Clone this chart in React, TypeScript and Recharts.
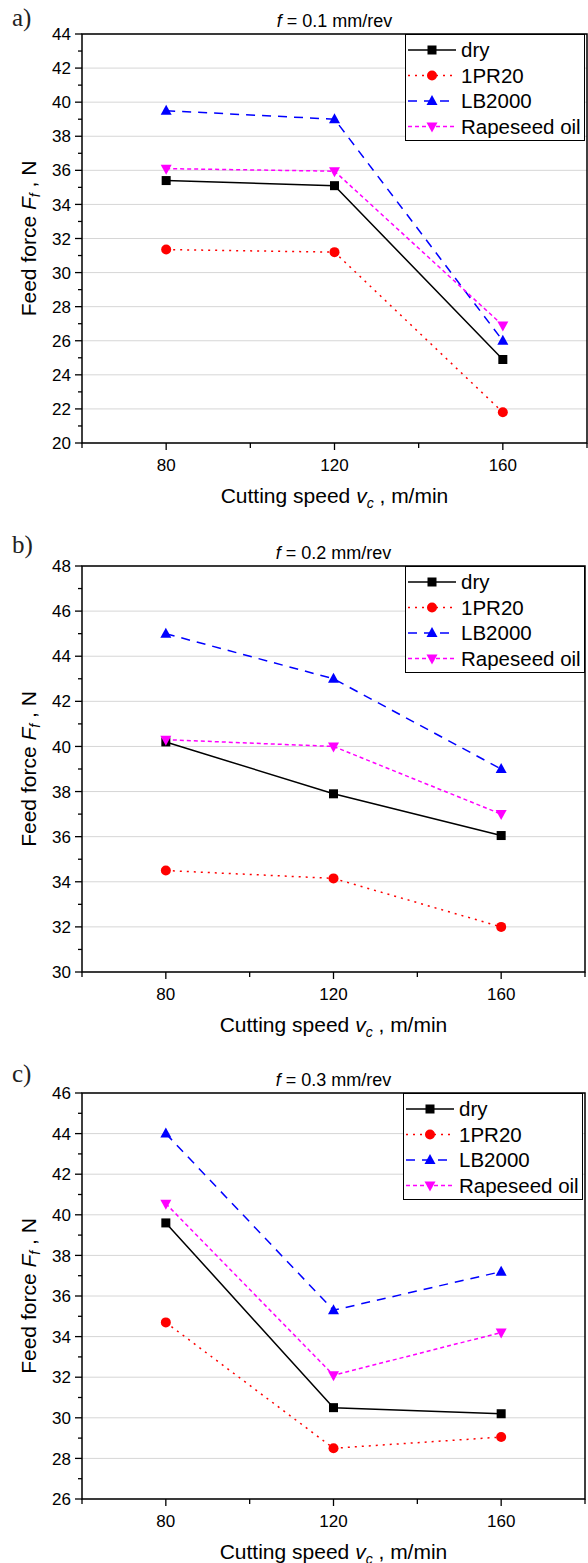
import React from 'react';
import { LineChart, Line, XAxis, YAxis, CartesianGrid, ReferenceArea, Legend, Label } from 'recharts';

// cutting speed, m/min
const speeds = [80, 120, 160];
const xTicks = [60, 80, 100, 120, 140, 160, 180];
const xLabelled = [80, 120, 160];

// f = 0.1 mm/rev
const dryA = [35.4, 35.1, 24.9];
const pr20A = [31.35, 31.2, 21.8];
const lbA = [39.5, 39.0, 26.0];
const rapeA = [36.1, 35.95, 26.9];

// f = 0.2 mm/rev
const dryB = [40.2, 37.9, 36.05];
const pr20B = [34.5, 34.15, 32.0];
const lbB = [45.0, 43.0, 39.0];
const rapeB = [40.3, 40.0, 37.0];

// f = 0.3 mm/rev
const dryC = [39.6, 30.5, 30.2];
const pr20C = [34.7, 28.5, 29.05];
const lbC = [44.0, 35.3, 37.2];
const rapeC = [40.55, 32.1, 34.2];

const FONT = '"Liberation Sans", Arial, Helvetica, sans-serif';
const SERIF = '"Liberation Serif", "Times New Roman", serif';
const AXIS_X = 82;

const intRange = (lo: number, hi: number) => {
  const out: number[] = [];
  for (let v = lo; v <= hi; v++) out.push(v);
  return out;
};

const makeRows = (dry: number[], pr: number[], lb: number[], rape: number[]) =>
  speeds.map((s, i) => ({ speed: s, dry: dry[i], pr20: pr[i], lb2000: lb[i], rape: rape[i] }));

const Square = ({ cx, cy }: any) => <rect x={cx - 4.5} y={cy - 4.5} width={9} height={9} fill="#000" />;
const Dot = ({ cx, cy }: any) => <circle cx={cx} cy={cy} r={5} fill="#ff0000" />;
const TriUp = ({ cx, cy }: any) => (
  <path d={`M${cx},${cy - 6} L${cx + 5.5},${cy + 4} L${cx - 5.5},${cy + 4} Z`} fill="#0000ff" />
);
const TriDown = ({ cx, cy }: any) => (
  <path d={`M${cx},${cy + 6} L${cx + 5.5},${cy - 4} L${cx - 5.5},${cy - 4} Z`} fill="#ff00ff" />
);

const series = [
  { key: 'dry', name: 'dry', color: '#000000', dash: undefined, Marker: Square },
  { key: 'pr20', name: '1PR20', color: '#ff0000', dash: '2 5', Marker: Dot },
  { key: 'lb2000', name: 'LB2000', color: '#0000ff', dash: '9 7', Marker: TriUp },
  { key: 'rape', name: 'Rapeseed oil', color: '#ff00ff', dash: '4 3', Marker: TriDown },
];

const LegendBox = () => (
  <svg width={180} height={107} style={{ display: 'block' }}>
    <rect x={0.5} y={0.5} width={179} height={106} fill="#fff" stroke="#000" strokeWidth={1} />
    {series.map((s, i) => {
      const y = 16 + i * 25.5;
      const M = s.Marker;
      return (
        <g key={s.key}>
          <line x1={3} x2={51} y1={y} y2={y} stroke={s.color} strokeWidth={1.5} strokeDasharray={s.dash} />
          <M cx={27} cy={y} />
          <text x={56} y={y} dy="0.36em" fontSize={20.5} fontFamily={FONT} fill="#000">
            {s.name}
          </text>
        </g>
      );
    })}
  </svg>
);

const YTick = ({ x, y, payload }: any) => {
  const v = payload.value;
  const major = v % 2 === 0;
  return (
    <g>
      <line x1={x - (major ? 7 : 4)} x2={x} y1={y} y2={y} stroke="#000" strokeWidth={1.3} />
      {major && (
        <text x={x - 11} y={y} dy="0.36em" textAnchor="end" fontSize={17} fontFamily={FONT} fill="#000">
          {v}
        </text>
      )}
    </g>
  );
};

const XTick = ({ x, y, payload }: any) => {
  const v = payload.value;
  const major = xLabelled.includes(v);
  return (
    <g>
      <line x1={x} x2={x} y1={y} y2={y + (major ? 7 : 5)} stroke="#000" strokeWidth={1.3} />
      {major && (
        <text x={x} y={y + 28} textAnchor="middle" fontSize={17} fontFamily={FONT} fill="#000">
          {v}
        </text>
      )}
    </g>
  );
};

interface PanelProps {
  letter: string;
  feed: string;
  top: number;
  height: number;
  plotTop: number;
  plotBottom: number;
  right: number;
  domain: [number, number];
  data: any[];
  legendLeft: number;
  letterDy: number;
}

const Panel = ({ letter, feed, top, height, plotTop, plotBottom, right, domain, data, legendLeft, letterDy }: PanelProps) => {
  const xAxisH = height - plotBottom - 4;
  const plotRight = 588 - right;
  const cx = (AXIS_X + plotRight) / 2;
  const yTicks = intRange(domain[0], domain[1]);
  const grid = yTicks.filter((v) => v % 2 === 0);
  return (
    <div style={{ position: 'absolute', top, left: 0, width: 588, height }}>
      <LineChart width={588} height={height} data={data} margin={{ top: plotTop, right, left: 0, bottom: 4 }}>
        <CartesianGrid vertical={false} horizontalValues={grid} stroke="#d6d6d6" strokeWidth={1} />
        <XAxis
          dataKey="speed"
          type="number"
          domain={[60, 180]}
          ticks={xTicks}
          interval={0}
          height={xAxisH}
          tickSize={0}
          tickMargin={0}
          tickLine={false}
          axisLine={false}
          tick={<XTick />}
        >
          <Label
            content={() => (
              <text x={cx} y={plotBottom + 60} textAnchor="middle" fontSize={21} fontFamily={FONT} fill="#000">
                {'Cutting speed '}
                <tspan fontStyle="italic">v</tspan>
                <tspan fontStyle="italic" fontSize={14} dy={5}>c</tspan>
                <tspan dy={-5}>{' , m/min'}</tspan>
              </text>
            )}
          />
        </XAxis>
        <YAxis
          type="number"
          domain={domain}
          ticks={yTicks}
          interval={0}
          width={AXIS_X}
          tickSize={0}
          tickMargin={0}
          tickLine={false}
          axisLine={false}
          allowDataOverflow
          tick={<YTick />}
        >
          <Label
            content={() => {
              const cy = (plotTop + plotBottom) / 2;
              const bx = 36;
              return (
                <text
                  x={bx}
                  y={cy}
                  transform={`rotate(-90 ${bx} ${cy})`}
                  textAnchor="middle"
                  fontSize={21}
                  fontFamily={FONT}
                  fill="#000"
                >
                  {'Feed force '}
                  <tspan fontStyle="italic">F</tspan>
                  <tspan fontStyle="italic" fontSize={14} dy={4}>f</tspan>
                  <tspan dy={-4}>{' , N'}</tspan>
                </text>
              );
            }}
          />
        </YAxis>
        <ReferenceArea x1={60} x2={180} y1={domain[0]} y2={domain[1]} fill="none" stroke="#000" strokeWidth={1.5} />
        {series.map((s) => (
          <Line
            key={s.key}
            type="linear"
            dataKey={s.key}
            name={s.name}
            stroke={s.color}
            strokeWidth={1.5}
            strokeDasharray={s.dash}
            dot={(p: any) => <s.Marker key={`${s.key}-${p.index}`} cx={p.cx} cy={p.cy} />}
            activeDot={false}
            isAnimationActive={false}
          />
        ))}
        <Legend
          layout="horizontal"
          verticalAlign="middle"
          align="center"
          wrapperStyle={{ top: plotTop, left: legendLeft, width: 180, height: 107, lineHeight: 0 }}
          content={() => <LegendBox />}
        />
      </LineChart>
      <svg width={588} height={height} style={{ position: 'absolute', top: 0, left: 0, pointerEvents: 'none' }}>
        <text x={12} y={plotTop + letterDy} fontSize={25} fontFamily={SERIF} fill="#222">
          {letter}
        </text>
        <text x={cx} y={plotTop - 7} textAnchor="middle" fontSize={18} fontFamily={FONT} fill="#000">
          <tspan fontStyle="italic">f</tspan>
          {` = ${feed} mm/rev`}
        </text>
      </svg>
    </div>
  );
};

export default function App() {
  return (
    <div style={{ position: 'absolute', top: 0, left: 0, width: 588, height: 1563, background: '#fff', overflow: 'hidden' }}>
      <Panel
        letter="a)"
        feed="0.1"
        top={0}
        height={525}
        plotTop={34}
        plotBottom={443}
        right={1}
        domain={[20, 44]}
        data={makeRows(dryA, pr20A, lbA, rapeA)}
        legendLeft={405}
        letterDy={-8}
      />
      <Panel
        letter="b)"
        feed="0.2"
        top={530}
        height={525}
        plotTop={36}
        plotBottom={442}
        right={3}
        domain={[30, 48]}
        data={makeRows(dryB, pr20B, lbB, rapeB)}
        legendLeft={405}
        letterDy={-13}
      />
      <Panel
        letter="c)"
        feed="0.3"
        top={1058}
        height={505}
        plotTop={35}
        plotBottom={441}
        right={3}
        domain={[26, 46]}
        data={makeRows(dryC, pr20C, lbC, rapeC)}
        legendLeft={403}
        letterDy={-11}
      />
    </div>
  );
}
